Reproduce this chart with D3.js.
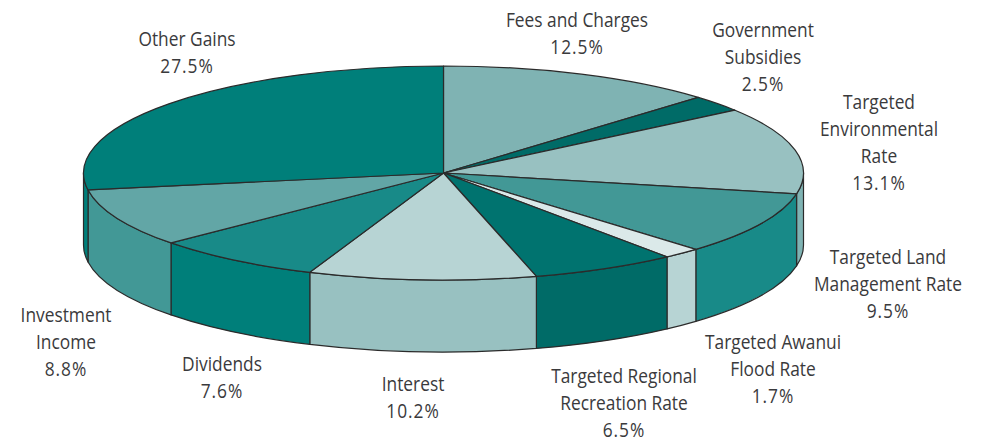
<!DOCTYPE html>
<html><head><meta charset="utf-8">
<script src="https://cdn.jsdelivr.net/npm/d3@7"></script>
<style>html,body{margin:0;padding:0;background:#fff}svg{display:block}text{font-family:"Open Sans",sans-serif;font-size:19.5px;fill:#3a3a3c;text-anchor:middle}</style>
</head><body><svg id="c" width="986" height="443"></svg>
<script>
const categories=["Fees and Charges","Government Subsidies","Targeted Environmental Rate","Targeted Land Management Rate","Targeted Awanui Flood Rate","Targeted Regional Recreation Rate","Interest","Dividends","Investment Income","Other Gains"];
const values=[12.5,2.5,13.1,9.5,1.7,6.5,10.2,7.6,8.8,27.5];
const topColors=["#7fb3b3","#006b67","#98c1c1","#429896","#dbe9e9","#00736f","#b7d4d4","#188a88","#62a6a6","#007f7a"];
const sideColors=["#7fb3b3","#006b67","#7fb3b3","#188a88","#b7d4d4","#006b67","#98c1c1","#007f7a","#429896","#007f7a"];
const labelLines=[["Fees and Charges","12.5%"],["Government","Subsidies","2.5%"],["Targeted","Environmental","Rate","13.1%"],["Targeted Land","Management Rate","9.5%"],["Targeted Awanui","Flood Rate","1.7%"],["Targeted Regional","Recreation Rate","6.5%"],["Interest","10.2%"],["Dividends","7.6%"],["Investment","Income","8.8%"],["Other Gains","27.5%"]];
const labelAnchors=[[577,27],[763,37],[879,109],[888,264],[773,349],[624,383],[413,391],[222,371],[66,322],[187,46]];
const cx=443.5,cy=173,rx=360,ry=107,depth=72,lineGap=27,squeeze=0.89;
const svg=d3.select("#c");
const slices=d3.pie().sort(null).value(d=>d)(values);
const px=a=>cx+rx*Math.sin(a), py=a=>cy-ry*Math.cos(a);
const sideData=slices.map((s,i)=>({a:Math.max(s.startAngle,Math.PI/2),b:Math.min(s.endAngle,Math.PI*1.5),i})).filter(d=>d.b>d.a);
svg.append("g").selectAll("path").data(sideData).join("path")
 .attr("d",d=>`M${px(d.a)},${py(d.a)}A${rx},${ry} 0 0 1 ${px(d.b)},${py(d.b)}L${px(d.b)},${py(d.b)+depth}A${rx},${ry} 0 0 0 ${px(d.a)},${py(d.a)+depth}Z`)
 .attr("fill",d=>sideColors[d.i]).attr("stroke","#2b2b2b").attr("stroke-width",1.2).attr("stroke-linejoin","round");
const arc=d3.arc().innerRadius(0).outerRadius(rx);
svg.append("g").attr("transform",`translate(${cx},${cy}) scale(1,${ry/rx})`)
 .selectAll("path").data(slices).join("path").attr("d",arc)
 .attr("fill",(d,i)=>topColors[i]).attr("stroke","#2b2b2b").attr("stroke-width",1.2).attr("stroke-linejoin","round").attr("vector-effect","non-scaling-stroke");
const lab=svg.append("g").selectAll("text").data(labelLines).join("text")
 .attr("transform",(d,i)=>`translate(${labelAnchors[i][0]},${labelAnchors[i][1]}) scale(${squeeze},1)`);
lab.selectAll("tspan").data(d=>d).join("tspan").attr("x",0).attr("dy",(d,i)=>i?lineGap:0)
 .attr("letter-spacing",d=>d.endsWith("%")?1.1:null).text(d=>d);
</script></body></html>
